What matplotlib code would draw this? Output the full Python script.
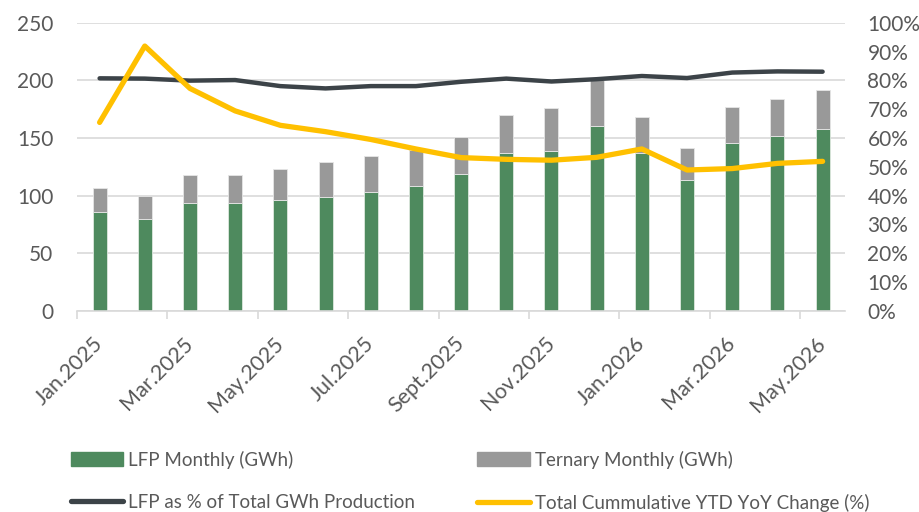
import numpy as np
import matplotlib
matplotlib.use('Agg')
from matplotlib import pyplot as plt
from matplotlib.patches import Patch
from matplotlib.lines import Line2D

plt.rcParams['font.family'] = ['Lato', 'DejaVu Sans']

# Data
months = ['Jan.2025', 'Feb.2025', 'Mar.2025', 'Apr.2025', 'May.2025', 'Jun.2025',
          'Jul.2025', 'Aug.2025', 'Sept.2025', 'Oct.2025', 'Nov.2025', 'Dec.2025',
          'Jan.2026', 'Feb.2026', 'Mar.2026', 'Apr.2026', 'May.2026']
lfp_gwh = [86, 80, 94, 94, 96, 99, 103, 108, 119, 137, 139, 160, 137, 114, 146, 152, 158]
total_gwh = [107, 100, 118, 118, 123, 129, 134, 140, 151, 170, 176, 200, 168, 141, 177, 184, 192]
lfp_share = [80.7, 80.6, 79.9, 80.1, 78.0, 77.2, 78.0, 78.0, 79.5, 80.6, 79.6, 80.4,
             81.5, 80.8, 82.7, 83.1, 83.0]
ytd_yoy = [65.4, 91.9, 77.2, 69.4, 64.4, 62.2, 59.5, 56.2, 53.2, 52.6, 52.3, 53.3,
           56.2, 48.9, 49.4, 51.2, 51.9]

ternary_gwh = [t - l for t, l in zip(total_gwh, lfp_gwh)]

green = '#4E8A5E'
grey = '#999999'
dark = '#3C4348'
yellow = '#FFC000'
txt = '#595959'
grid = '#D9D9D9'

fig = plt.figure(figsize=(9.2, 5.12), dpi=100)
ax = fig.add_axes([0.0837, 0.3926, 0.835, 0.5631])
ax2 = ax.twinx()

x = np.arange(len(months))
w = 0.31
ax.bar(x, lfp_gwh, w, color=green, edgecolor='#DDE8DF', linewidth=0.6, zorder=2)
ax.bar(x, ternary_gwh, w, bottom=lfp_gwh, color=grey, edgecolor='#E6E6E6', linewidth=0.6, zorder=2)

ax2.plot(x, lfp_share, color=dark, lw=3.2, solid_capstyle='round', solid_joinstyle='round', zorder=3)
ax2.plot(x, ytd_yoy, color=yellow, lw=3.8, solid_capstyle='round', solid_joinstyle='round', zorder=4)

ax.set_xlim(-0.5, len(months) - 0.5)
ax.set_ylim(0, 250)
ax.set_yticks(np.arange(0, 251, 50))
ax2.set_ylim(0, 100)
ax2.set_yticks(np.arange(0, 101, 10))
ax2.set_yticklabels([f'{v}%' for v in range(0, 101, 10)])

ax.yaxis.grid(True, color=grid, lw=1.2, zorder=0)
ax.set_axisbelow(True)

ax.set_xticks(x[::2])
ax.set_xticklabels(months[::2], rotation=45, ha='right', va='center', rotation_mode='anchor')
ax.set_xticks(np.arange(-0.5, len(months) - 1, 2), minor=True)
ax.tick_params(axis='x', which='major', length=0, pad=21, labelsize=15.5, labelcolor=txt)
ax.tick_params(axis='x', which='minor', length=6, width=1.2, color=grid)
ax.tick_params(axis='y', length=0, pad=17, labelsize=15, labelcolor=txt)
ax2.tick_params(axis='y', length=0, pad=16, labelsize=15, labelcolor=txt)

for s in ['top', 'left', 'right']:
    ax.spines[s].set_visible(False)
    ax2.spines[s].set_visible(False)
ax.spines['bottom'].set_color(grid)
ax.spines['bottom'].set_linewidth(1.2)
ax2.spines['bottom'].set_visible(False)

handles = [Patch(color=green), Line2D([], [], color=dark, lw=3.8, solid_capstyle='round'),
           Patch(color=grey), Line2D([], [], color=yellow, lw=3.8, solid_capstyle='round')]
labels = ['LFP Monthly (GWh)', 'LFP as % of Total GWh Production',
          'Ternary Monthly (GWh)', 'Total Cummulative YTD YoY Change (%)']
leg = fig.legend(handles, labels, ncol=2, loc='upper left', bbox_to_anchor=(0.077, 0.12),
                 frameon=False, fontsize=13.5, labelcolor=txt, handlelength=2.8,
                 handleheight=0.7, handletextpad=0.27, columnspacing=3.3, labelspacing=1.35,
                 borderaxespad=0, borderpad=0)

fig.savefig('out.png', dpi=100)
